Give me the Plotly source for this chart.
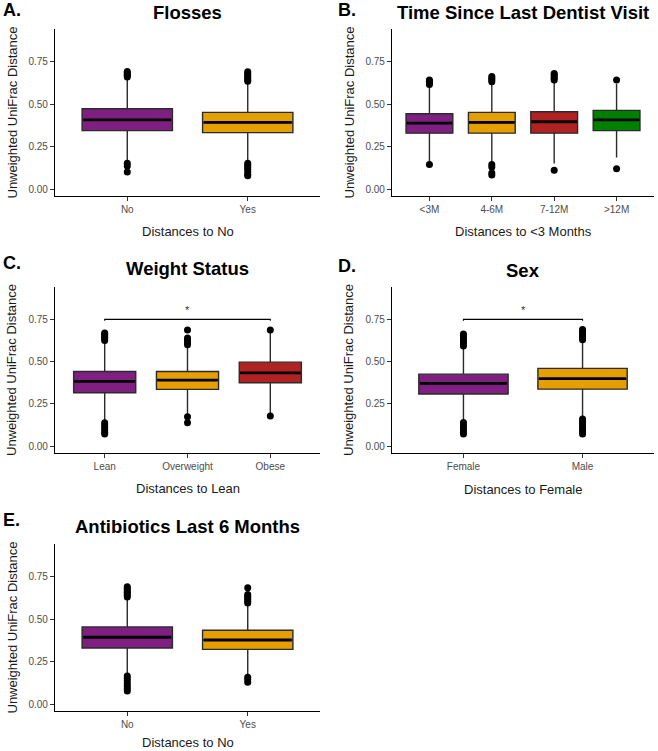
import plotly.graph_objects as go

W, H = 658, 751
FONT = "Liberation Sans, Arial, sans-serif"

PURPLE = "#7f1f81"
ORANGE = "#e69f00"
RED = "#b22222"
GREEN = "#008000"

# ---------------- Data ----------------
# Panel A: Flosses
a_cats = ["No", "Yes"]
a_q1 = [0.344, 0.332]
a_med = [0.407, 0.392]
a_q3 = [0.473, 0.451]
a_lo = [0.165, 0.160]
a_hi = [0.655, 0.628]
a_out_hi = [[0.660, 0.668, 0.676, 0.684, 0.692],
            [0.634, 0.642, 0.650, 0.660, 0.670, 0.680, 0.690]]
a_out_lo = [[0.152, 0.135, 0.100],
            [0.152, 0.140, 0.128, 0.115, 0.100, 0.085, 0.078]]

# Panel B: Time Since Last Dentist Visit
b_cats = ["<3M", "4-6M", "7-12M", ">12M"]
b_q1 = [0.329, 0.329, 0.329, 0.344]
b_med = [0.388, 0.392, 0.396, 0.407]
b_q3 = [0.443, 0.451, 0.455, 0.463]
b_lo = [0.160, 0.160, 0.150, 0.185]
b_hi = [0.608, 0.625, 0.635, 0.620]
b_out_hi = [[0.615, 0.625, 0.635, 0.642],
            [0.632, 0.642, 0.652, 0.662],
            [0.642, 0.652, 0.662, 0.672, 0.680],
            [0.642]]
b_out_lo = [[0.145],
            [0.145, 0.130, 0.095, 0.082],
            [0.110],
            [0.120]]

# Panel C: Weight Status
c_cats = ["Lean", "Overweight", "Obese"]
c_q1 = [0.316, 0.336, 0.375]
c_med = [0.383, 0.391, 0.434]
c_q3 = [0.442, 0.442, 0.497]
c_lo = [0.150, 0.185, 0.190]
c_hi = [0.618, 0.592, 0.675]
c_out_hi = [[0.625, 0.635, 0.645, 0.655, 0.663, 0.670],
            [0.600, 0.612, 0.626, 0.640, 0.687],
            [0.687]]
c_out_lo = [[0.138, 0.125, 0.110, 0.095, 0.082, 0.072],
            [0.174, 0.138],
            [0.178]]
c_sig = [0, 2]

# Panel D: Sex
d_cats = ["Female", "Male"]
d_q1 = [0.308, 0.337]
d_med = [0.371, 0.399]
d_q3 = [0.426, 0.460]
d_lo = [0.150, 0.170]
d_hi = [0.585, 0.622]
d_out_hi = [[0.592, 0.605, 0.618, 0.630, 0.642, 0.655, 0.663],
            [0.630, 0.642, 0.654, 0.666, 0.678, 0.690]]
d_out_lo = [[0.140, 0.125, 0.110, 0.095, 0.080, 0.072],
            [0.160, 0.145, 0.130, 0.115, 0.100, 0.085, 0.072]]
d_sig = [0, 1]

# Panel E: Antibiotics Last 6 Months
e_cats = ["No", "Yes"]
e_q1 = [0.330, 0.322]
e_med = [0.393, 0.377]
e_q3 = [0.454, 0.434]
e_lo = [0.175, 0.165]
e_hi = [0.622, 0.588]
e_out_hi = [[0.630, 0.640, 0.650, 0.660, 0.670, 0.680, 0.690],
            [0.595, 0.605, 0.615, 0.625, 0.635, 0.645, 0.685]]
e_out_lo = [[0.165, 0.150, 0.135, 0.120, 0.105, 0.090, 0.077],
            [0.158, 0.145, 0.128]]

y_ticks = [0.0, 0.25, 0.50, 0.75]
y_ticktext = ["0.00", "0.25", "0.50", "0.75"]
y_title = "Unweighted UniFrac Distance"

colors4 = [PURPLE, ORANGE, RED, GREEN]

# ---------------- Layout geometry (pixels) ----------------
panels = [
    dict(letter="A.", title="Flosses", xtitle="Distances to No",
         cats=a_cats, q1=a_q1, med=a_med, q3=a_q3, lo=a_lo, hi=a_hi,
         oh=a_out_hi, ol=a_out_lo, sig=None,
         x0=55, x1=320, y0=29, y1=196, letter_xy=(1, 10), title_y=13,
         xt_y=231, yt_x=12),
    dict(letter="B.", title="Time Since Last Dentist Visit", xtitle="Distances to <3 Months",
         cats=b_cats, q1=b_q1, med=b_med, q3=b_q3, lo=b_lo, hi=b_hi,
         oh=b_out_hi, ol=b_out_lo, sig=None,
         x0=392, x1=654, y0=29, y1=196, letter_xy=(336, 10), title_y=13,
         xt_y=231, yt_x=349),
    dict(letter="C.", title="Weight Status", xtitle="Distances to Lean",
         cats=c_cats, q1=c_q1, med=c_med, q3=c_q3, lo=c_lo, hi=c_hi,
         oh=c_out_hi, ol=c_out_lo, sig=c_sig,
         x0=55, x1=320, y0=287, y1=453, letter_xy=(1, 263), title_y=269,
         xt_y=488, yt_x=12),
    dict(letter="D.", title="Sex", xtitle="Distances to Female",
         cats=d_cats, q1=d_q1, med=d_med, q3=d_q3, lo=d_lo, hi=d_hi,
         oh=d_out_hi, ol=d_out_lo, sig=d_sig,
         x0=392, x1=654, y0=287, y1=453, letter_xy=(336, 266), title_y=270,
         xt_y=489, yt_x=349),
    dict(letter="E.", title="Antibiotics Last 6 Months", xtitle="Distances to No",
         cats=e_cats, q1=e_q1, med=e_med, q3=e_q3, lo=e_lo, hi=e_hi,
         oh=e_out_hi, ol=e_out_lo, sig=None,
         x0=55, x1=320, y0=544, y1=711, letter_xy=(1, 520), title_y=526,
         xt_y=742, yt_x=12),
]

fig = go.Figure()
annotations = []
BOXW = 0.75


def px_x(p):
    return p / W


def px_y(p):
    return 1 - p / H


for i, p in enumerate(panels):
    n = i + 1
    xa = "x" if n == 1 else f"x{n}"
    ya = "y" if n == 1 else f"y{n}"
    xkey = "xaxis" if n == 1 else f"xaxis{n}"
    ykey = "yaxis" if n == 1 else f"yaxis{n}"
    k = len(p["cats"])
    for j in range(k):
        fig.add_trace(go.Box(
            x=[j], q1=[p["q1"][j]], median=[p["med"][j]], q3=[p["q3"][j]],
            lowerfence=[p["lo"][j]], upperfence=[p["hi"][j]],
            width=BOXW, whiskerwidth=0, boxpoints=False,
            fillcolor=colors4[j], line=dict(color="#2b2b2b", width=1.4),
            xaxis=xa, yaxis=ya, showlegend=False, hoverinfo="skip"))
        # thick median line
        fig.add_trace(go.Scatter(
            x=[j - BOXW / 2 + 0.01, j + BOXW / 2 - 0.01], y=[p["med"][j]] * 2,
            mode="lines", line=dict(color="black", width=2.8),
            xaxis=xa, yaxis=ya, showlegend=False, hoverinfo="skip"))
        outs = p["oh"][j] + p["ol"][j]
        fig.add_trace(go.Scatter(
            x=[j] * len(outs), y=outs, mode="markers",
            marker=dict(color="black", size=7),
            xaxis=xa, yaxis=ya, showlegend=False, hoverinfo="skip"))
    if p["sig"] is not None:
        s0, s1 = p["sig"]
        fig.add_trace(go.Scatter(
            x=[s0, s0, s1, s1], y=[0.742, 0.75, 0.75, 0.742], mode="lines",
            line=dict(color="black", width=1.1),
            xaxis=xa, yaxis=ya, showlegend=False, hoverinfo="skip"))
        annotations.append(dict(x=(s0 + s1) / 2, y=0.805, xref=xa, yref=ya,
                                text="*", showarrow=False,
                                font=dict(size=11, color="#333333", family=FONT)))

    fig.layout[xkey] = dict(
        domain=[px_x(p["x0"]), px_x(p["x1"])], anchor=ya,
        range=[-0.6, k - 0.4], tickvals=list(range(k)), ticktext=p["cats"],
        showline=True, linecolor="black", linewidth=1.1, ticks="outside",
        ticklen=4, tickcolor="#333333", tickwidth=1,
        tickfont=dict(size=10, color="#4d4d4d", family=FONT),
        showgrid=False, zeroline=False, fixedrange=True)
    fig.layout[ykey] = dict(
        domain=[px_y(p["y1"]), px_y(p["y0"])], anchor=xa,
        range=[-0.041, 0.942], tickvals=y_ticks, ticktext=y_ticktext,
        showline=True, linecolor="black", linewidth=1.1, ticks="outside",
        ticklen=4, tickcolor="#333333", tickwidth=1,
        tickfont=dict(size=10, color="#4d4d4d", family=FONT),
        showgrid=False, zeroline=False, fixedrange=True)

    cx = (p["x0"] + p["x1"]) / 2
    cy = (p["y0"] + p["y1"]) / 2
    annotations.append(dict(x=px_x(p["letter_xy"][0]), y=px_y(p["letter_xy"][1]),
                            xref="paper", yref="paper", xanchor="left", yanchor="middle",
                            text=f"<b>{p['letter']}</b>", showarrow=False,
                            font=dict(size=18, color="black", family=FONT)))
    annotations.append(dict(x=px_x(cx), y=px_y(p["title_y"]),
                            xref="paper", yref="paper", xanchor="center", yanchor="middle",
                            text=f"<b>{p['title']}</b>", showarrow=False,
                            font=dict(size=18.5, color="black", family=FONT)))
    annotations.append(dict(x=px_x(cx), y=px_y(p["xt_y"]),
                            xref="paper", yref="paper", xanchor="center", yanchor="middle",
                            text=p["xtitle"].replace("<", "&lt;"), showarrow=False,
                            font=dict(size=13, color="#1a1a1a", family=FONT)))
    annotations.append(dict(x=px_x(p["yt_x"]), y=px_y(cy),
                            xref="paper", yref="paper", xanchor="center", yanchor="middle",
                            text=y_title, textangle=-90, showarrow=False,
                            font=dict(size=13, color="#1a1a1a", family=FONT)))

fig.update_layout(
    width=W, height=H, margin=dict(l=0, r=0, t=0, b=0),
    plot_bgcolor="white", paper_bgcolor="white",
    annotations=annotations, showlegend=False,
    font=dict(family=FONT),
)

fig.write_html("out.html",
               config={"displayModeBar": False, "staticPlot": True},
               post_script="document.body.style.margin='0';"
                           "document.body.style.overflow='hidden';")
